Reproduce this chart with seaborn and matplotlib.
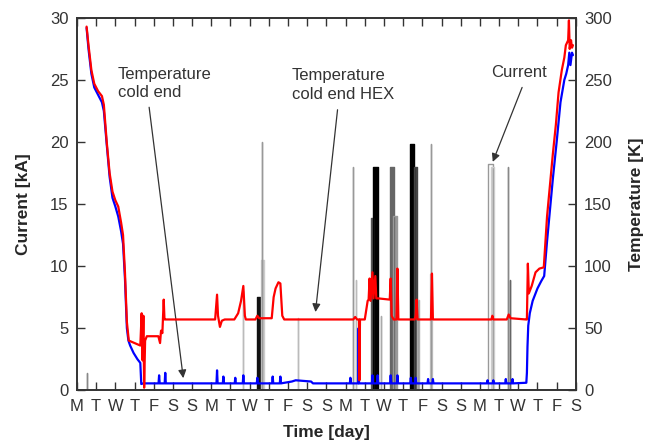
import numpy as np
import pandas as pd
import matplotlib
matplotlib.use("Agg")
import matplotlib.pyplot as plt
import seaborn as sns

sns.set_style("ticks")
plt.rcParams['font.family'] = ['Liberation Sans', 'DejaVu Sans']
plt.rcParams['font.size'] = 12

# --- data --------------------------------------------------------------
day_labels = ['M', 'T', 'W', 'T', 'F', 'S', 'S'] * 3 + ['M', 'T', 'W', 'T', 'F', 'S']

# temperature at the HEX of the cold end (red), K
hex_day = [0.5, 0.6, 0.75, 0.9, 1.1, 1.3, 1.4, 1.55, 1.7, 1.85, 2.0, 2.15, 2.3, 2.4,
           2.5, 2.6, 2.7, 3.0, 3.3, 3.37, 3.42, 3.46, 3.5, 3.55, 3.64, 4.24, 4.33, 4.38,
           4.45, 4.52, 4.56, 4.6, 7.2, 7.3, 7.35, 7.45, 7.55, 7.7, 8.2, 8.4, 8.55, 8.67,
           8.75, 8.8, 9.3, 9.4, 9.5, 10.15, 10.25, 10.35, 10.5, 10.6, 10.7, 10.8, 14.4,
           14.5, 14.6, 14.7, 14.72, 14.75, 15.0, 15.05, 15.15, 15.2, 15.25, 15.3, 15.4,
           15.45, 15.55, 15.6, 15.7, 16.3, 16.35, 16.4, 16.5, 16.65, 16.7, 16.75, 17.6,
           17.65, 17.7, 17.75, 18.45, 18.5, 18.55, 21.6, 21.65, 21.7, 22.4, 22.5, 22.6,
           23.4, 23.45, 23.5, 23.55, 23.7, 23.9, 24.1, 24.33, 24.5, 24.8, 24.96, 25.1,
           25.27, 25.4, 25.48, 25.6, 25.64, 25.68, 25.75, 25.8, 25.85]
hex_K = [293, 278, 258, 247, 241, 237, 230, 200, 175, 160, 153, 148, 135, 125,
         95, 55, 40, 38, 36, 62, 24, 60, 2, 40, 43.5, 43.5, 38, 48,
         46, 73, 57, 57, 57, 77, 60, 51, 56, 57, 57, 62, 72, 84,
         60, 57, 57, 60, 58, 58, 75, 82, 87, 86, 60, 57, 57,
         59, 57, 57, 8, 57, 57, 62, 72, 73, 90, 72, 95,
         74, 92, 74, 74, 73, 90, 60, 57, 57, 98, 57, 57,
         60, 73, 57, 57, 94, 57, 57, 60, 57, 57, 61, 58,
         57, 57, 102, 78, 84, 95, 98, 99, 140, 190, 214, 240,
         258, 268, 278, 282, 298, 275, 282, 276, 278]

# temperature at the cold end (blue), K
cold_day = [0.5, 0.6, 0.75, 0.9, 1.1, 1.3, 1.4, 1.55, 1.7, 1.85, 2.0, 2.15, 2.3, 2.4,
            2.5, 2.6, 2.68, 2.77, 2.95, 3.15, 3.3, 3.35, 3.45, 4.25, 4.28, 4.31, 4.57,
            4.6, 4.63, 7.27, 7.3, 7.33, 7.6, 7.63, 7.66, 8.22, 8.25, 8.28, 8.64, 8.67,
            8.7, 9.37, 9.4, 9.43, 10.17, 10.2, 10.23, 10.57, 10.6, 10.63, 11.2, 11.4,
            12.2, 12.3, 14.22, 14.25, 14.28, 14.66, 14.68, 14.7, 15.37, 15.4, 15.43,
            15.64, 15.67, 15.7, 16.32, 16.35, 16.38, 16.67, 16.7, 16.73, 17.37, 17.4,
            17.43, 17.62, 17.65, 17.68, 18.27, 18.3, 18.33, 18.52, 18.55, 18.58, 21.37,
            21.4, 21.43, 21.67, 21.7, 21.73, 22.32, 22.35, 22.38, 22.67, 22.7, 22.73,
            23.42, 23.45, 23.48, 23.52, 23.6, 23.75, 24.0, 24.2, 24.35, 24.5, 24.8, 25.0,
            25.2, 25.4, 25.5, 25.6, 25.66, 25.72, 25.8, 25.85]
cold_K = [292, 275, 255, 244, 238, 232, 225, 198, 172, 155, 148, 140, 128, 118,
          90, 50, 40, 36, 30, 25, 22, 5, 5.5, 5.5, 12, 5.5, 5.5,
          14, 5.5, 5.5, 16, 5.5, 5.5, 11, 5.5, 5.5, 10, 5.5, 5.5, 12,
          5.5, 5.5, 10, 5.5, 5.5, 11, 5.5, 5.5, 11, 5.5, 7, 8,
          7, 5.5, 5.5, 10, 5.5, 5.5, 50, 5.5, 5.5, 12, 5.5,
          5.5, 12, 5.5, 5.5, 12, 5.5, 5.5, 12, 5.5, 5.5, 10,
          5.5, 5.5, 10, 5.5, 5.5, 9, 5.5, 5.5, 9, 5.5, 5.5,
          8, 5.5, 5.5, 8, 5.5, 5.5, 9, 5.5, 5.5, 9, 5.5,
          6, 14, 35, 52, 62, 72, 82, 88, 92, 120, 170, 200,
          232, 250, 255, 262, 272, 262, 272, 270]

# current pulses: start day, end day, current [kA], shade, filled or outline
pulse_start = [0.50, 8.65, 9.40, 9.60, 9.62, 11.53, 14.40, 14.52, 15.35, 15.45,
               15.86, 16.30, 16.48, 17.34, 17.55, 17.72, 18.38, 18.43, 21.42, 21.60,
               22.44, 22.55]
pulse_end = [0.51, 8.66, 9.52, 9.74, 9.63, 11.54, 14.41, 14.56, 15.45, 15.70,
             15.87, 16.50, 16.70, 17.55, 17.72, 17.80, 18.50, 18.44, 21.70, 21.72,
             22.45, 22.56]
pulse_kA = [1.4, 8.0, 7.5, 10.5, 20.0, 5.8, 18.0, 8.9, 13.9, 18.0,
            6.0, 18.0, 14.0, 19.8, 18.0, 7.3, 9.4, 19.8, 18.2, 18.0,
            18.0, 8.9]
pulse_shade = ['#888888', '#bbbbbb', '#111111', '#cccccc', '#999999', '#bbbbbb',
               '#999999', '#bbbbbb', '#555555', '#000000', '#aaaaaa', '#666666',
               '#999999', '#000000', '#444444', '#aaaaaa', '#cccccc', '#999999',
               '#999999', '#cccccc', '#888888', '#666666']
pulse_filled = [True, True, True, True, True, True, True, True, True, True,
                True, True, True, True, True, True, True, True, False, True,
                True, True]

# --- long tables for seaborn ------------------------------------------
rows = []
for i, (s, e, a) in enumerate(zip(pulse_start, pulse_end, pulse_kA)):
    for d, v in [(s, 0), (s, a), (e, a), (e, 0)]:
        rows.append({'day': d, 'kA': v, 'pulse': i})
cur = pd.DataFrame(rows)
hex_df = pd.DataFrame({'day': hex_day, 'K': hex_K})
cold_df = pd.DataFrame({'day': cold_day, 'K': cold_K})

fig, ax = plt.subplots(figsize=(6.47, 4.48), dpi=100)
fig.subplots_adjust(left=0.119, right=0.890, bottom=0.129, top=0.960)

# filled current blocks under the outlines
for s, e, a, c, f in zip(pulse_start, pulse_end, pulse_kA, pulse_shade, pulse_filled):
    if f:
        ax.fill_between([s, e], 0, a, color=c, linewidth=0)

sns.lineplot(data=cur, x='day', y='kA', hue='pulse',
             palette=dict(enumerate(pulse_shade)), estimator=None, sort=False,
             legend=False, linewidth=1.0, ax=ax)

ax2 = ax.twinx()
sns.lineplot(data=cold_df, x='day', y='K', color='#0000ff', estimator=None,
             sort=False, linewidth=1.6, ax=ax2)
sns.lineplot(data=hex_df, x='day', y='K', color='#ff0000', estimator=None,
             sort=False, linewidth=1.6, ax=ax2)

ax.set_xlim(0, 26)
ax.set_ylim(0, 30)
ax2.set_ylim(0, 300)
ax.set_xticks(range(len(day_labels)))
ax.set_xticklabels(day_labels)
ax.set_yticks(range(0, 31, 5))
ax2.set_yticks(range(0, 301, 50))

tick_kw = dict(direction='in', length=6, width=1.0, colors='#333333',
               labelsize=12, pad=6)
ax.tick_params(axis='x', top=True, **tick_kw)
ax.tick_params(axis='y', **tick_kw)
ax2.tick_params(axis='y', **tick_kw)
for a in (ax, ax2):
    for sp in a.spines.values():
        sp.set_visible(True)
        sp.set_color('#333333')
        sp.set_linewidth(1.2)

ax.set_xlabel('Time [day]', fontweight='bold', fontsize=12.5, labelpad=8)
ax.set_ylabel('Current [kA]', fontweight='bold', fontsize=12.5, labelpad=14)
ax2.set_ylabel('Temperature [K]', fontweight='bold', fontsize=12.5,
               rotation=90, labelpad=12)

arrow = dict(arrowstyle='-|>', color='#333333', lw=0.9, mutation_scale=12,
             shrinkA=0, shrinkB=0)
ax.annotate('', xy=(5.54, 0.97), xytext=(3.76, 22.8), arrowprops=arrow)
ax.annotate('', xy=(12.43, 6.3), xytext=(13.58, 22.6), arrowprops=arrow)
ax.annotate('', xy=(21.67, 18.4), xytext=(23.2, 24.4), arrowprops=arrow)
ax.text(2.14, 24.7, 'Temperature\ncold end', fontsize=12, color='#333333',
        va='center', ha='left', linespacing=1.3)
ax.text(11.2, 24.6, 'Temperature\ncold end HEX', fontsize=12, color='#333333',
        va='center', ha='left', linespacing=1.3)
ax.text(21.6, 25.6, 'Current', fontsize=12, color='#333333',
        va='center', ha='left')

plt.savefig('out.png', dpi=100)
